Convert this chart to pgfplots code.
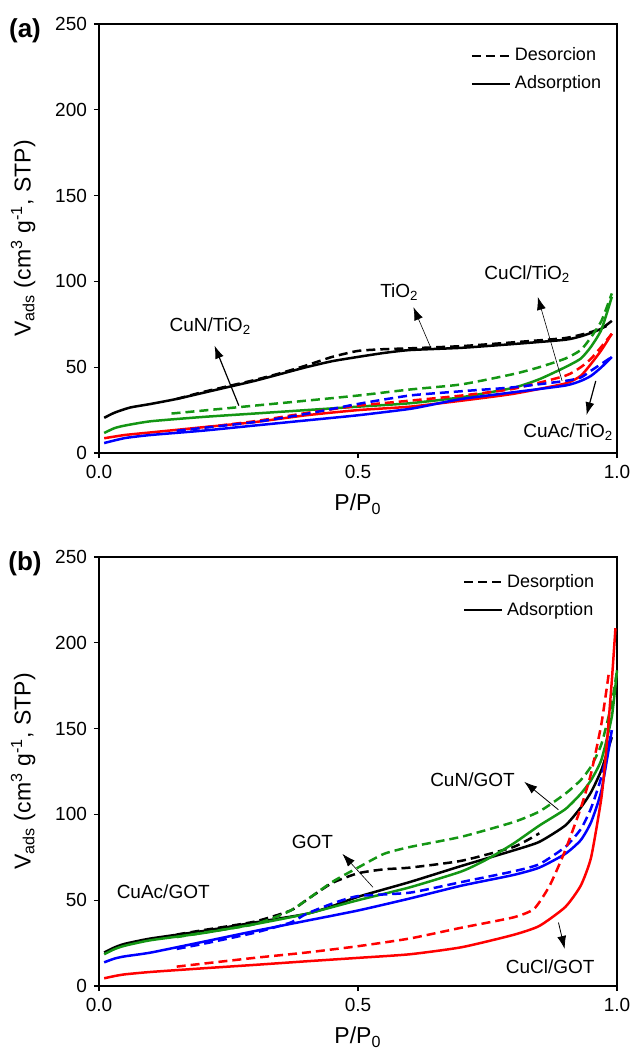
\documentclass[border=0pt]{standalone}
\usepackage{fontspec}
\setmainfont{Liberation Sans}
\usepackage{pgfplots}
\pgfplotsset{compat=1.18}
\usetikzlibrary{arrows.meta}

\definecolor{cgreen}{RGB}{20,150,20}
\definecolor{cred}{RGB}{255,0,0}
\definecolor{cblue}{RGB}{0,0,255}

\tikzset{
  des/.style={dash pattern=on 4.5pt off 2.5pt},
  ann/.style={font=\fontsize{9.5}{11}\selectfont},
  arr/.style={-{Latex[length=6.5pt,width=4.5pt]}},
}

\pgfplotsset{
  iso/.style={
    width=259pt, height=214.5pt, scale only axis,
    xmin=0, xmax=1, ymin=0, ymax=250,
    xtick={0,0.5,1}, ytick={0,50,...,250},
    tick pos=left, tick align=outside,
    major tick length=2.5pt,
    axis line style={line width=0.6pt},
    every tick/.style={line width=0.6pt, black},
    xticklabel style={/pgf/number format/fixed, /pgf/number format/fixed zerofill, /pgf/number format/precision=1},
    /pgf/number format/assume math mode=true,
    tick label style={font=\fontsize{9.5}{11}\selectfont},
    label style={font=\fontsize{11.5}{13}\selectfont},
    xlabel={P/P\textsubscript{0}},
    ylabel={V\textsubscript{ads} (cm\textsuperscript{3} g\textsuperscript{-1}, STP)},
    ylabel style={yshift=3pt},
    xlabel style={yshift=-1pt},
    legend cell align=left,
    legend style={draw=none, fill=none, font=\fontsize{9}{10}\selectfont, row sep=2pt},
    legend image code/.code={\draw[#1] (0pt,0pt) -- (19pt,0pt);},
    every axis plot/.append style={line width=1.25pt, smooth, tension=0.35},
    clip=false,
  },
}

\begin{document}
\begin{tikzpicture}
\useasboundingbox (0,0) rectangle (317pt,-524.5pt);

% ---------------- (a) ----------------
\begin{axis}[iso, at={(49.5pt,-226.5pt)}, anchor=south west,
  legend style={at={(axis cs:0.705,241)}, anchor=north west}]
\addlegendimage{black, line width=1.2pt, des}
\addlegendentry{Desorcion}
\addlegendimage{black, line width=1.2pt}
\addlegendentry{Adsorption}

% TiO2
\addplot[black, des] coordinates {(0.15,31.5) (0.2,35.5) (0.25,39) (0.3,42.5) (0.35,46.5) (0.4,51) (0.45,56) (0.5,59.5) (0.55,60.5) (0.6,61) (0.7,62.3) (0.8,64.5) (0.9,67) (0.95,70.5) (0.98,74)};
\addplot[black] coordinates {(0.01,20.5) (0.03,23.5) (0.06,26.5) (0.1,28.6) (0.15,31.5) (0.2,35) (0.25,38.5) (0.3,42) (0.35,46) (0.4,50) (0.45,53.5) (0.5,56) (0.55,58.3) (0.6,60) (0.7,61.3) (0.8,63.5) (0.9,66) (0.93,68) (0.95,70) (0.97,72.5) (0.99,77)};
% CuN/TiO2
\addplot[cgreen, des] coordinates {(0.14,23) (0.2,24.7) (0.3,27.6) (0.4,30.5) (0.5,33.5) (0.6,37) (0.7,40) (0.8,46) (0.85,50) (0.9,55) (0.93,60) (0.95,67.5) (0.97,77) (0.99,93)};
\addplot[cgreen] coordinates {(0.01,11.7) (0.03,14.5) (0.05,16) (0.1,18.5) (0.2,21) (0.3,23) (0.4,25) (0.5,27) (0.6,29) (0.7,32.5) (0.8,38) (0.85,43) (0.9,50) (0.93,55) (0.95,62) (0.97,72) (0.99,91)};
% CuCl/TiO2
\addplot[cred, des] coordinates {(0.15,13) (0.3,18.5) (0.4,23.3) (0.5,27.6) (0.6,30.5) (0.7,33.5) (0.8,37.4) (0.9,45) (0.93,50) (0.95,55) (0.97,62) (0.99,69.5)};
\addplot[cred] coordinates {(0.01,8.6) (0.05,10.5) (0.1,12) (0.2,15) (0.3,18) (0.4,22) (0.5,25) (0.6,27) (0.7,30.5) (0.8,34.5) (0.9,40.5) (0.93,45) (0.95,52) (0.97,60) (0.99,69.5)};
% CuAc/TiO2
\addplot[cblue, des] coordinates {(0.15,13) (0.3,18) (0.4,22.8) (0.5,28.6) (0.6,33.5) (0.7,36) (0.8,38.3) (0.9,42) (0.93,44) (0.95,48) (0.97,52) (0.99,56)};
\addplot[cblue] coordinates {(0.01,5.8) (0.05,8.7) (0.1,10.5) (0.2,13) (0.3,16) (0.4,19) (0.5,22) (0.6,25.7) (0.65,28.6) (0.7,31.5) (0.8,35.4) (0.9,39.3) (0.93,42) (0.95,45) (0.97,50) (0.99,56)};

\node[ann] at (axis cs:0.215,74) {CuN/TiO\textsubscript{2}};
\draw[arr, line width=0.6pt] (axis cs:0.27,27.6) -- (axis cs:0.223,62.6);
\node[ann] at (axis cs:0.58,94) {TiO\textsubscript{2}};
\draw[arr, line width=0.3pt] (axis cs:0.64,61.7) -- (axis cs:0.607,85);
\node[ann] at (axis cs:0.827,104.5) {CuCl/TiO\textsubscript{2}};
\draw[arr, line width=0.3pt] (axis cs:0.894,42) -- (axis cs:0.847,91);
\node[ann] at (axis cs:0.906,12) {CuAc/TiO\textsubscript{2}};
\draw[arr, line width=0.6pt] (axis cs:0.959,42) -- (axis cs:0.941,22);
\end{axis}
\node[font=\bfseries\fontsize{13}{15}\selectfont] at (12.5pt,-15.5pt) {(a)};

% ---------------- (b) ----------------
\begin{axis}[iso, at={(49.5pt,-493pt)}, anchor=south west,
  legend style={at={(axis cs:0.69,245)}, anchor=north west}]
\addlegendimage{black, line width=1.2pt, des}
\addlegendentry{Desorption}
\addlegendimage{black, line width=1.2pt}
\addlegendentry{Adsorption}

% GOT
\addplot[black, des] coordinates {(0.15,30) (0.2,32.5) (0.3,37.5) (0.37,44) (0.4,50) (0.45,60) (0.5,65.7) (0.55,68) (0.6,69) (0.7,73) (0.8,81) (0.85,89)};
\addplot[black] coordinates {(0.01,19.5) (0.03,22.5) (0.05,24.6) (0.1,27.7) (0.2,32) (0.3,37) (0.4,42) (0.45,46.5) (0.5,52) (0.6,60.6) (0.7,70) (0.8,79) (0.85,84) (0.9,93.5) (0.93,104) (0.95,113) (0.97,126) (0.99,145)};
% CuN/GOT
\addplot[cgreen, des] coordinates {(0.15,28.5) (0.2,31) (0.3,36) (0.37,44) (0.45,60.6) (0.5,69) (0.55,77) (0.6,81) (0.7,87) (0.8,95.5) (0.85,101.7) (0.9,112) (0.93,120) (0.95,128) (0.97,141) (0.99,165) (1.0,184)};
\addplot[cgreen] coordinates {(0.01,18.5) (0.03,21.5) (0.05,23.5) (0.1,26.7) (0.2,30.8) (0.3,36) (0.4,42) (0.5,50) (0.6,57.5) (0.7,66.8) (0.75,74) (0.8,83) (0.85,93.5) (0.9,103) (0.93,112) (0.95,120) (0.97,132) (0.99,157) (1.0,184)};
% CuAc/GOT
\addplot[cblue, des] coordinates {(0.15,21.6) (0.2,24.5) (0.3,31) (0.37,37) (0.4,42) (0.45,48) (0.5,52.4) (0.6,54.4) (0.7,60.6) (0.8,66.8) (0.85,71) (0.9,81) (0.93,91.4) (0.95,103.7) (0.97,122) (0.99,149)};
\addplot[cblue] coordinates {(0.01,13.8) (0.03,16) (0.05,17.3) (0.1,19.5) (0.2,25.7) (0.3,32) (0.4,38) (0.5,44) (0.6,51) (0.7,58.5) (0.8,64.7) (0.85,69) (0.9,77) (0.93,85) (0.95,95.5) (0.97,114) (0.99,149)};
% CuCl/GOT
\addplot[cred, des] coordinates {(0.15,11.3) (0.3,16.4) (0.4,19.5) (0.5,23.2) (0.6,27.7) (0.7,34) (0.8,40) (0.84,45) (0.87,58.5) (0.9,79) (0.93,103.7) (0.95,124) (0.97,153) (0.985,184)};
\addplot[cred] coordinates {(0.01,4.5) (0.03,5.8) (0.05,6.8) (0.1,8.2) (0.2,10.3) (0.3,12.3) (0.4,14.4) (0.5,16.4) (0.6,18.5) (0.7,22.6) (0.8,29.8) (0.85,35) (0.9,46) (0.93,58.5) (0.95,75) (0.97,110) (0.98,140) (0.99,178) (0.997,208.5)};

\node[ann] at (axis cs:0.721,120) {CuN/GOT};
\draw[arr, line width=0.4pt] (axis cs:0.887,102.7) -- (axis cs:0.821,119);
\node[ann] at (axis cs:0.412,84) {GOT};
\draw[arr, line width=0.3pt] (axis cs:0.529,57.5) -- (axis cs:0.47,77);
\node[ann] at (axis cs:0.124,55) {CuAc/GOT};
\node[ann] at (axis cs:0.871,11.3) {CuCl/GOT};
\draw[arr, line width=0.4pt] (axis cs:0.887,37) -- (axis cs:0.899,21.6);
\end{axis}
\node[font=\bfseries\fontsize{13}{15}\selectfont] at (12.5pt,-282pt) {(b)};
\end{tikzpicture}
\end{document}
